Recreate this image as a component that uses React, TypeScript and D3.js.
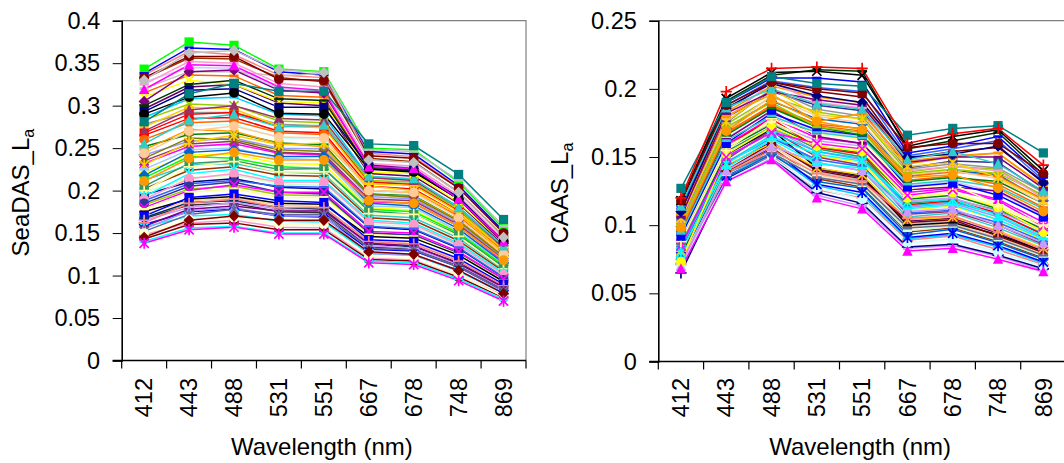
import { useEffect, useRef } from 'react';
import * as d3 from 'd3';

const wavelengths = ['412', '443', '488', '531', '551', '667', '678', '748', '869'];
const seadasTicks = [0, 0.05, 0.1, 0.15, 0.2, 0.25, 0.3, 0.35, 0.4];
const caasTicks = [0, 0.05, 0.1, 0.15, 0.2, 0.25];

// SeaDAS La, one row per series (412 ... 869 nm)
const seadasSeries: number[][] = [
  [0.336, 0.364, 0.360, 0.336, 0.333, 0.244, 0.240, 0.204, 0.150],
  [0.328, 0.345, 0.344, 0.320, 0.318, 0.230, 0.228, 0.193, 0.143],
  [0.315, 0.336, 0.335, 0.312, 0.310, 0.226, 0.224, 0.190, 0.141],
  [0.296, 0.322, 0.325, 0.303, 0.300, 0.220, 0.217, 0.185, 0.136],
  [0.286, 0.308, 0.310, 0.290, 0.288, 0.216, 0.213, 0.181, 0.134],
  [0.278, 0.292, 0.292, 0.278, 0.276, 0.210, 0.208, 0.177, 0.131],
  [0.268, 0.290, 0.292, 0.276, 0.275, 0.210, 0.207, 0.176, 0.131],
  [0.262, 0.276, 0.278, 0.262, 0.260, 0.199, 0.196, 0.167, 0.124],
  [0.252, 0.266, 0.268, 0.256, 0.254, 0.196, 0.194, 0.165, 0.123],
  [0.242, 0.258, 0.262, 0.250, 0.249, 0.193, 0.190, 0.162, 0.120],
  [0.232, 0.252, 0.255, 0.244, 0.242, 0.187, 0.185, 0.158, 0.117],
  [0.222, 0.242, 0.243, 0.232, 0.231, 0.180, 0.177, 0.151, 0.112],
  [0.212, 0.230, 0.232, 0.222, 0.220, 0.171, 0.168, 0.144, 0.107],
  [0.202, 0.224, 0.228, 0.218, 0.217, 0.168, 0.165, 0.141, 0.105],
  [0.195, 0.210, 0.214, 0.204, 0.202, 0.157, 0.154, 0.132, 0.098],
  [0.183, 0.202, 0.205, 0.195, 0.194, 0.150, 0.147, 0.126, 0.094],
  [0.172, 0.188, 0.191, 0.183, 0.181, 0.140, 0.138, 0.118, 0.088],
  [0.160, 0.175, 0.178, 0.170, 0.169, 0.131, 0.129, 0.110, 0.082],
  [0.148, 0.162, 0.165, 0.157, 0.156, 0.121, 0.119, 0.101, 0.076],
  [0.143, 0.160, 0.162, 0.154, 0.154, 0.119, 0.117, 0.098, 0.074],
  [0.157, 0.170, 0.172, 0.164, 0.163, 0.126, 0.124, 0.105, 0.079],
  [0.167, 0.183, 0.185, 0.175, 0.174, 0.134, 0.131, 0.112, 0.084],
  [0.343, 0.375, 0.371, 0.343, 0.340, 0.250, 0.248, 0.210, 0.155],
  [0.338, 0.368, 0.366, 0.340, 0.336, 0.246, 0.243, 0.206, 0.152],
  [0.320, 0.340, 0.340, 0.335, 0.338, 0.248, 0.246, 0.212, 0.158],
  [0.332, 0.356, 0.355, 0.333, 0.328, 0.238, 0.234, 0.198, 0.146],
  [0.325, 0.352, 0.350, 0.326, 0.322, 0.232, 0.229, 0.194, 0.142],
  [0.310, 0.330, 0.325, 0.305, 0.303, 0.222, 0.220, 0.186, 0.138],
  [0.305, 0.340, 0.342, 0.318, 0.315, 0.230, 0.226, 0.190, 0.138],
  [0.300, 0.325, 0.330, 0.308, 0.306, 0.226, 0.223, 0.190, 0.140],
  [0.293, 0.318, 0.320, 0.298, 0.298, 0.228, 0.224, 0.192, 0.140],
  [0.283, 0.302, 0.300, 0.282, 0.280, 0.212, 0.210, 0.178, 0.130],
  [0.275, 0.298, 0.296, 0.276, 0.274, 0.208, 0.206, 0.175, 0.130],
  [0.270, 0.295, 0.300, 0.285, 0.283, 0.215, 0.212, 0.180, 0.133],
  [0.265, 0.285, 0.286, 0.270, 0.268, 0.205, 0.202, 0.172, 0.128],
  [0.260, 0.280, 0.282, 0.268, 0.266, 0.200, 0.198, 0.170, 0.127],
  [0.248, 0.272, 0.270, 0.255, 0.252, 0.195, 0.193, 0.165, 0.123],
  [0.238, 0.262, 0.260, 0.248, 0.246, 0.196, 0.192, 0.164, 0.122],
  [0.235, 0.255, 0.258, 0.245, 0.243, 0.190, 0.188, 0.160, 0.119],
  [0.230, 0.257, 0.265, 0.254, 0.256, 0.205, 0.200, 0.172, 0.127],
  [0.225, 0.248, 0.250, 0.238, 0.236, 0.182, 0.180, 0.152, 0.114],
  [0.218, 0.245, 0.248, 0.240, 0.240, 0.185, 0.182, 0.155, 0.115],
  [0.215, 0.240, 0.238, 0.228, 0.226, 0.178, 0.175, 0.150, 0.112],
  [0.205, 0.232, 0.235, 0.225, 0.226, 0.176, 0.172, 0.148, 0.110],
  [0.200, 0.228, 0.234, 0.222, 0.222, 0.173, 0.172, 0.146, 0.108],
  [0.198, 0.215, 0.218, 0.208, 0.206, 0.160, 0.158, 0.135, 0.100],
  [0.193, 0.220, 0.225, 0.212, 0.212, 0.165, 0.162, 0.138, 0.103],
  [0.190, 0.214, 0.220, 0.210, 0.210, 0.163, 0.160, 0.136, 0.101],
  [0.188, 0.208, 0.212, 0.205, 0.204, 0.158, 0.155, 0.133, 0.098],
  [0.185, 0.205, 0.210, 0.198, 0.196, 0.150, 0.148, 0.126, 0.095],
  [0.180, 0.200, 0.207, 0.198, 0.198, 0.152, 0.150, 0.128, 0.096],
  [0.178, 0.198, 0.202, 0.192, 0.192, 0.148, 0.146, 0.125, 0.094],
  [0.175, 0.190, 0.193, 0.185, 0.184, 0.146, 0.144, 0.124, 0.093],
  [0.170, 0.192, 0.196, 0.188, 0.186, 0.142, 0.140, 0.120, 0.090],
  [0.168, 0.186, 0.188, 0.180, 0.178, 0.137, 0.134, 0.115, 0.087],
  [0.165, 0.180, 0.186, 0.178, 0.176, 0.135, 0.132, 0.113, 0.085],
  [0.162, 0.185, 0.190, 0.180, 0.180, 0.140, 0.137, 0.117, 0.088],
  [0.158, 0.178, 0.182, 0.176, 0.176, 0.138, 0.135, 0.114, 0.086],
  [0.155, 0.176, 0.180, 0.170, 0.170, 0.126, 0.124, 0.106, 0.080],
  [0.152, 0.172, 0.178, 0.172, 0.172, 0.132, 0.130, 0.110, 0.082],
  [0.150, 0.166, 0.168, 0.160, 0.160, 0.122, 0.120, 0.101, 0.075],
  [0.145, 0.165, 0.170, 0.165, 0.165, 0.128, 0.125, 0.106, 0.079],
  [0.140, 0.156, 0.158, 0.150, 0.150, 0.117, 0.115, 0.096, 0.072],
  [0.138, 0.154, 0.157, 0.149, 0.149, 0.115, 0.113, 0.094, 0.070],
  [0.244, 0.270, 0.276, 0.263, 0.262, 0.200, 0.198, 0.168, 0.125],
  [0.211, 0.238, 0.245, 0.236, 0.236, 0.188, 0.185, 0.158, 0.118],
  [0.255, 0.283, 0.290, 0.275, 0.277, 0.217, 0.214, 0.180, 0.135],
  [0.290, 0.310, 0.315, 0.291, 0.290, 0.225, 0.222, 0.190, 0.140],
  [0.319, 0.348, 0.347, 0.322, 0.318, 0.228, 0.226, 0.190, 0.140],
  [0.333, 0.358, 0.358, 0.331, 0.330, 0.241, 0.238, 0.203, 0.150],
  [0.330, 0.362, 0.365, 0.342, 0.339, 0.236, 0.233, 0.198, 0.145],
  [0.281, 0.314, 0.326, 0.317, 0.317, 0.255, 0.253, 0.219, 0.166],
];

const seadasColors = [
  '#FF8080', '#CCCCFF', '#FF6600', '#660066', '#00CCFF', '#969696', '#FF0000', '#CCFFFF',
  '#008000', '#9999FF', '#FF00FF', '#FFFF00', '#33CCCC', '#993300', '#000080', '#99CC00',
  '#FFCC99', '#0000FF', '#FF99CC', '#800000', '#00FFFF', '#333333',
  '#00FF00', '#0000FF', '#C0C0C0', '#993300', '#FF99CC', '#FFFF00', '#800080', '#003300',
  '#000080', '#99CC00', '#FFCC00', '#993366', '#FF0000', '#FF6600', '#FF9900', '#808000',
  '#993366', '#FFCC00', '#99CCFF', '#0066CC', '#00FF00', '#339966', '#FFFF99', '#CCFFCC',
  '#00FFFF', '#FF99CC', '#3366FF', '#333399', '#FF00FF', '#FFFF99', '#000000', '#0000FF',
  '#003366', '#CC99FF', '#FF8080', '#800080', '#9999FF', '#666699', '#FFFFCC', '#800000',
  '#00FFFF', '#FF00FF', '#FFCC99', '#FF9900', '#33CCCC', '#000000', '#FF00FF', '#800000',
  '#C0C0C0', '#008080',
];
const seadasMarkers = [
  'dash', 'diamond', 'dash', 'x', 'dash', 'dash', 'square', 'circle',
  'dash', 'plus', 'triangle', 'dash', 'star', 'dash', 'square', 'dash',
  'plus', 'diamond', 'dash', 'circle', 'x', 'dash',
  'square', 'dash', 'dash', 'circle', 'dash', 'x', 'diamond', 'dash',
  'square', 'x', 'dash', 'triangle', 'dash', 'circle', 'dash', 'x',
  'x', 'star', 'dash', 'diamond', 'dash', 'square', 'plus', 'dash',
  'star', 'circle', 'dash', 'circle', 'x', 'dash', 'dash', 'square',
  'dash', 'plus', 'plus', 'dash', 'triangle', 'star', 'circle', 'diamond',
  'dash', 'star', 'circle', 'circle', 'triangle', 'circle', 'triangle', 'circle',
  'diamond', 'square',
];

// CAAS La
const caasSeries: number[][] = [
  [0.067, 0.133, 0.149, 0.122, 0.114, 0.083, 0.085, 0.077, 0.067],
  [0.071, 0.134, 0.151, 0.126, 0.120, 0.089, 0.092, 0.082, 0.071],
  [0.073, 0.136, 0.153, 0.129, 0.122, 0.090, 0.093, 0.084, 0.072],
  [0.076, 0.139, 0.157, 0.134, 0.128, 0.095, 0.098, 0.088, 0.076],
  [0.078, 0.141, 0.159, 0.137, 0.131, 0.099, 0.101, 0.091, 0.079],
  [0.080, 0.143, 0.161, 0.141, 0.135, 0.103, 0.105, 0.094, 0.081],
  [0.082, 0.146, 0.166, 0.146, 0.140, 0.106, 0.109, 0.098, 0.085],
  [0.084, 0.149, 0.169, 0.151, 0.146, 0.111, 0.114, 0.104, 0.089],
  [0.086, 0.151, 0.171, 0.154, 0.148, 0.113, 0.116, 0.106, 0.091],
  [0.089, 0.156, 0.174, 0.158, 0.153, 0.119, 0.122, 0.112, 0.097],
  [0.092, 0.159, 0.179, 0.164, 0.160, 0.124, 0.127, 0.119, 0.102],
  [0.094, 0.164, 0.183, 0.169, 0.165, 0.129, 0.132, 0.124, 0.107],
  [0.097, 0.167, 0.187, 0.173, 0.169, 0.133, 0.136, 0.130, 0.113],
  [0.099, 0.171, 0.191, 0.178, 0.174, 0.136, 0.140, 0.137, 0.118],
  [0.101, 0.174, 0.194, 0.183, 0.178, 0.139, 0.143, 0.141, 0.121],
  [0.104, 0.179, 0.198, 0.188, 0.184, 0.142, 0.147, 0.146, 0.124],
  [0.107, 0.183, 0.202, 0.194, 0.190, 0.147, 0.151, 0.153, 0.129],
  [0.109, 0.185, 0.205, 0.198, 0.194, 0.149, 0.154, 0.157, 0.132],
  [0.111, 0.188, 0.206, 0.201, 0.198, 0.151, 0.156, 0.162, 0.133],
  [0.085, 0.147, 0.162, 0.139, 0.133, 0.101, 0.103, 0.093, 0.080],
  [0.065, 0.134, 0.150, 0.124, 0.116, 0.084, 0.086, 0.078, 0.068],
  [0.070, 0.133, 0.150, 0.127, 0.119, 0.087, 0.090, 0.080, 0.070],
  [0.075, 0.135, 0.152, 0.132, 0.127, 0.093, 0.097, 0.087, 0.075],
  [0.077, 0.136, 0.156, 0.130, 0.124, 0.091, 0.094, 0.085, 0.073],
  [0.074, 0.137, 0.154, 0.136, 0.129, 0.096, 0.099, 0.089, 0.077],
  [0.079, 0.138, 0.153, 0.135, 0.130, 0.098, 0.100, 0.090, 0.078],
  [0.087, 0.152, 0.170, 0.142, 0.136, 0.100, 0.102, 0.093, 0.081],
  [0.078, 0.140, 0.160, 0.140, 0.134, 0.102, 0.104, 0.092, 0.080],
  [0.081, 0.144, 0.160, 0.142, 0.137, 0.104, 0.106, 0.096, 0.083],
  [0.072, 0.138, 0.155, 0.138, 0.132, 0.105, 0.107, 0.095, 0.082],
  [0.082, 0.148, 0.170, 0.150, 0.144, 0.108, 0.110, 0.100, 0.086],
  [0.084, 0.146, 0.164, 0.148, 0.143, 0.109, 0.111, 0.102, 0.088],
  [0.070, 0.140, 0.158, 0.146, 0.140, 0.110, 0.112, 0.100, 0.087],
  [0.076, 0.142, 0.163, 0.145, 0.142, 0.112, 0.115, 0.104, 0.090],
  [0.083, 0.150, 0.168, 0.154, 0.149, 0.114, 0.117, 0.108, 0.094],
  [0.093, 0.158, 0.178, 0.157, 0.152, 0.115, 0.118, 0.109, 0.093],
  [0.086, 0.154, 0.172, 0.156, 0.150, 0.116, 0.119, 0.111, 0.096],
  [0.080, 0.145, 0.165, 0.152, 0.147, 0.117, 0.119, 0.107, 0.092],
  [0.090, 0.158, 0.175, 0.162, 0.158, 0.118, 0.120, 0.110, 0.096],
  [0.073, 0.152, 0.172, 0.158, 0.154, 0.120, 0.124, 0.113, 0.095],
  [0.091, 0.157, 0.176, 0.160, 0.155, 0.121, 0.124, 0.114, 0.099],
  [0.085, 0.150, 0.168, 0.160, 0.156, 0.122, 0.126, 0.118, 0.099],
  [0.095, 0.163, 0.184, 0.165, 0.160, 0.126, 0.128, 0.125, 0.108],
  [0.088, 0.155, 0.178, 0.167, 0.163, 0.127, 0.130, 0.115, 0.100],
  [0.092, 0.160, 0.182, 0.170, 0.166, 0.128, 0.131, 0.122, 0.106],
  [0.094, 0.162, 0.180, 0.168, 0.164, 0.130, 0.133, 0.128, 0.112],
  [0.097, 0.166, 0.186, 0.172, 0.166, 0.132, 0.135, 0.132, 0.116],
  [0.096, 0.168, 0.188, 0.174, 0.171, 0.136, 0.139, 0.136, 0.119],
  [0.100, 0.170, 0.195, 0.180, 0.175, 0.137, 0.140, 0.134, 0.116],
  [0.100, 0.172, 0.190, 0.172, 0.168, 0.138, 0.141, 0.138, 0.122],
  [0.102, 0.178, 0.205, 0.190, 0.186, 0.140, 0.143, 0.140, 0.120],
  [0.103, 0.175, 0.200, 0.185, 0.180, 0.141, 0.145, 0.142, 0.124],
  [0.105, 0.176, 0.200, 0.181, 0.178, 0.143, 0.146, 0.135, 0.118],
  [0.108, 0.180, 0.196, 0.176, 0.182, 0.145, 0.150, 0.153, 0.128],
  [0.106, 0.182, 0.198, 0.192, 0.188, 0.146, 0.150, 0.150, 0.127],
  [0.110, 0.186, 0.204, 0.195, 0.190, 0.150, 0.152, 0.158, 0.131],
  [0.112, 0.190, 0.208, 0.208, 0.205, 0.153, 0.158, 0.165, 0.135],
  [0.116, 0.191, 0.210, 0.214, 0.213, 0.156, 0.162, 0.168, 0.137],
  [0.118, 0.193, 0.212, 0.213, 0.210, 0.158, 0.165, 0.170, 0.140],
  [0.068, 0.132, 0.148, 0.120, 0.112, 0.081, 0.083, 0.075, 0.066],
  [0.098, 0.169, 0.192, 0.176, 0.170, 0.135, 0.137, 0.127, 0.110],
  [0.114, 0.186, 0.200, 0.189, 0.185, 0.148, 0.154, 0.145, 0.125],
  [0.118, 0.188, 0.205, 0.200, 0.197, 0.157, 0.160, 0.160, 0.138],
  [0.127, 0.190, 0.209, 0.204, 0.202, 0.166, 0.171, 0.173, 0.153],
  [0.120, 0.198, 0.215, 0.216, 0.215, 0.160, 0.167, 0.171, 0.144],
];

const caasColors = [
  '#CC99FF', '#FF8080', '#00CCFF', '#993300', '#FFCC99', '#660066', '#33CCCC', '#FFFF00',
  '#9999FF', '#008000', '#FF00FF', '#CCCCFF', '#FF6600', '#0066CC', '#99CC00', '#333399',
  '#FF9900', '#800000', '#3366FF', '#C0C0C0',
  '#000080', '#CCFFFF', '#0066CC', '#0000FF', '#CCFFCC', '#666699', '#000000', '#800000',
  '#FFCC00', '#FF8080', '#993366', '#3366FF', '#CC99FF', '#00FFFF', '#00CCFF', '#FF0000',
  '#339966', '#00FFFF', '#CC99FF', '#FFFF00', '#FFFF99', '#FF00FF', '#800080', '#FFFF99',
  '#0000FF', '#33CCCC', '#008000', '#FF6600', '#FFCC99', '#99CC00', '#FF99CC', '#969696',
  '#FFCC00', '#FF9900', '#800080', '#000080', '#0000FF', '#003300', '#000000', '#FF00FF',
  '#FF9900', '#33CCCC', '#800000', '#008080', '#FF0000',
];
const caasMarkers = [
  'dash', 'plus', 'dash', 'circle', 'dash', 'x', 'dash', 'dash',
  'triangle', 'dash', 'star', 'dash', 'dash', 'diamond', 'dash', 'square',
  'dash', 'dash', 'x', 'dash',
  'plus', 'circle', 'diamond', 'star', 'dash', 'dash', 'dash', 'dash',
  'x', 'plus', 'dash', 'dash', 'triangle', 'dash', 'dash', 'dash',
  'dash', 'star', 'dash', 'circle', 'dash', 'x', 'dash', 'plus',
  'square', 'dash', 'dash', 'dash', 'dash', 'dash', 'dash', 'dash',
  'star', 'dash', 'dash', 'diamond', 'dash', 'dash', 'x', 'triangle',
  'circle', 'triangle', 'circle', 'square', 'plus',
];

const FONT = "'Liberation Sans', Arial, sans-serif";

type Panel = {
  series: number[][];
  colors: string[];
  markers: string[];
  ticks: number[];
  yMax: number;
  x0: number;
  x1: number;
  yTop: number;
  yBottom: number;
  label: string;
  labelX: number;
  clip: string;
};

function drawMarker(g: d3.Selection<SVGGElement, unknown, null, undefined>, type: string, cx: number, cy: number, color: string) {
  const s = 4.6;
  if (type === 'square') {
    g.append('rect').attr('x', cx - s).attr('y', cy - s).attr('width', 2 * s).attr('height', 2 * s).attr('fill', color);
  } else if (type === 'diamond') {
    g.append('path').attr('d', `M${cx},${cy - s - 1}L${cx + s + 1},${cy}L${cx},${cy + s + 1}L${cx - s - 1},${cy}Z`).attr('fill', color);
  } else if (type === 'triangle') {
    g.append('path').attr('d', `M${cx},${cy - s - 1}L${cx + s + 0.5},${cy + s}L${cx - s - 0.5},${cy + s}Z`).attr('fill', color);
  } else if (type === 'circle') {
    g.append('circle').attr('cx', cx).attr('cy', cy).attr('r', s + 0.3).attr('fill', color);
  } else if (type === 'x' || type === 'star') {
    g.append('path')
      .attr('d', `M${cx - s},${cy - s}L${cx + s},${cy + s}M${cx - s},${cy + s}L${cx + s},${cy - s}` + (type === 'star' ? `M${cx},${cy - s - 1}L${cx},${cy + s + 1}` : ''))
      .attr('stroke', color).attr('stroke-width', 1.7).attr('fill', 'none');
  } else if (type === 'plus') {
    g.append('path')
      .attr('d', `M${cx - s - 1},${cy}L${cx + s + 1},${cy}M${cx},${cy - s - 1}L${cx},${cy + s + 1}`)
      .attr('stroke', color).attr('stroke-width', 1.7).attr('fill', 'none');
  } else {
    g.append('path').attr('d', `M${cx - s},${cy}L${cx + s},${cy}`).attr('stroke', color).attr('stroke-width', 2.6);
  }
}

const App = () => {
  const svgRef = useRef<SVGSVGElement>(null);

  useEffect(() => {
    const svg = d3.select(svgRef.current);
    svg.selectAll('*').remove();

    const panels: Panel[] = [
      {
        series: seadasSeries, colors: seadasColors, markers: seadasMarkers, ticks: seadasTicks, yMax: 0.4,
        x0: 121.7, x1: 526, yTop: 20.7, yBottom: 360.5, label: 'SeaDAS_L', labelX: 28.5, clip: 'clipL',
      },
      {
        series: caasSeries, colors: caasColors, markers: caasMarkers, ticks: caasTicks, yMax: 0.25,
        x0: 658.3, x1: 1066, yTop: 20.7, yBottom: 361.5, label: 'CAAS_L', labelX: 568, clip: 'clipR',
      },
    ];

    const defs = svg.append('defs');

    panels.forEach(p => {
      const x = d3.scaleBand().domain(wavelengths).range([p.x0, p.x1]);
      const y = d3.scaleLinear().domain([0, p.yMax]).range([p.yBottom, p.yTop]);
      const cx = (w: string) => (x(w) as number) + x.bandwidth() / 2;

      defs.append('clipPath').attr('id', p.clip)
        .append('rect').attr('x', p.x0 - 6).attr('y', p.yTop - 6).attr('width', p.x1 - p.x0 + 12).attr('height', p.yBottom - p.yTop + 12);

      // plot frame (gray top/right)
      svg.append('path')
        .attr('d', `M${p.x0},${p.yTop}H${p.x1}V${p.yBottom}`)
        .attr('fill', 'none').attr('stroke', '#808080').attr('stroke-width', 1.2);

      const plot = svg.append('g').attr('clip-path', `url(#${p.clip})`);
      const line = d3.line<number>().x((_, i) => cx(wavelengths[i])).y(d => y(d));

      p.series.forEach((vals, i) => {
        plot.append('path').attr('d', line(vals)).attr('fill', 'none')
          .attr('stroke', p.colors[i]).attr('stroke-width', 1.5);
      });
      p.series.forEach((vals, i) => {
        const mg = plot.append('g');
        vals.forEach((v, j) => drawMarker(mg, p.markers[i], cx(wavelengths[j]), y(v), p.colors[i]));
      });

      // y axis
      const yAxis = svg.append('g').attr('transform', `translate(${p.x0},0)`)
        .call(d3.axisLeft(y).tickValues(p.ticks).tickSize(9).tickPadding(12.5).tickFormat(d => String(d)));
      yAxis.select('.domain').attr('stroke', '#000').attr('stroke-width', 1.6);
      yAxis.selectAll('.tick line').attr('stroke', '#000');
      yAxis.selectAll('.tick text').attr('font-family', FONT).attr('font-size', 23.5).attr('fill', '#000');

      // x axis (ticks between categories)
      const xa = svg.append('g');
      xa.append('line').attr('x1', p.x0 - 9).attr('x2', p.x1).attr('y1', p.yBottom).attr('y2', p.yBottom)
        .attr('stroke', '#000').attr('stroke-width', 1.4);
      const edges = wavelengths.map(w => x(w) as number).concat([p.x1]);
      edges.forEach(e => {
        xa.append('line').attr('x1', e).attr('x2', e).attr('y1', p.yBottom).attr('y2', p.yBottom + 8)
          .attr('stroke', '#000').attr('stroke-width', 1.2);
      });
      wavelengths.forEach(w => {
        xa.append('text')
          .attr('transform', `translate(${cx(w)},378) rotate(-90)`)
          .attr('text-anchor', 'end').attr('dy', '0.35em')
          .attr('font-family', FONT).attr('font-size', 23.5).text(w);
      });

      xa.append('text')
        .attr('x', (p.x0 + p.x1) / 2 - 2).attr('y', 455)
        .attr('text-anchor', 'middle').attr('font-family', FONT).attr('font-size', 24)
        .text('Wavelength (nm)');

      const yl = svg.append('text')
        .attr('transform', `translate(${p.labelX},${(p.yTop + p.yBottom) / 2 + 2}) rotate(-90)`)
        .attr('text-anchor', 'middle').attr('font-family', FONT).attr('font-size', 24);
      yl.append('tspan').text(p.label);
      yl.append('tspan').attr('font-size', 16).attr('dy', 5).text('a');
    });
  }, []);

  return (
    <div style={{ position: 'absolute', left: 0, top: 0, width: 1064, height: 463, background: '#fff', overflow: 'hidden' }}>
      <svg ref={svgRef} width={1064} height={463} style={{ display: 'block' }} />
    </div>
  );
};

export default App;
